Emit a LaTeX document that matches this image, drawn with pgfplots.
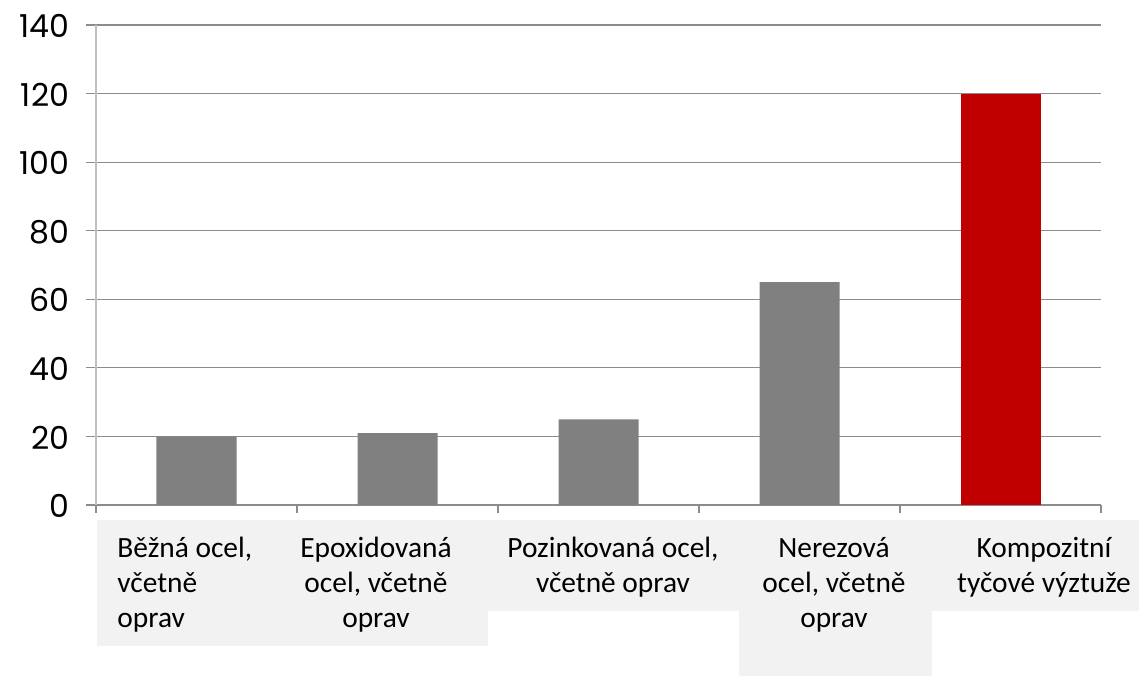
\documentclass[border=0pt]{standalone}
\usepackage{pgfplots}
\pgfplotsset{compat=1.18}
\usepackage{fontspec}
\setmainfont{Carlito}
\newfontfamily\tickfont{Poppins}
\definecolor{barg}{HTML}{808080}
\definecolor{barr}{HTML}{C00000}
\definecolor{gridc}{HTML}{8C8C8C}
\definecolor{axc}{HTML}{BFBFBF}
\definecolor{boxc}{HTML}{F2F2F2}
\begin{document}
\begin{tikzpicture}
\useasboundingbox (-48pt,-85.5pt) rectangle (521.5pt,252.5pt);
\fill[boxc] (0.5pt,-7.5pt) rectangle (196pt,-70.5pt);
\fill[boxc] (196pt,-7.5pt) rectangle (521.5pt,-53pt);
\fill[boxc] (321.5pt,-53pt) rectangle (418pt,-85.5pt);
\begin{axis}[
  at={(0pt,0pt)}, anchor=south west,
  scale only axis, width=502.5pt, height=240pt,
  xmin=-0.5, xmax=4.5, ymin=0, ymax=140,
  axis lines*=left, separate axis lines,
  x axis line style={gridc, line width=0.6pt},
  y axis line style={axc, line width=0.6pt},
  ytick={0,20,...,140},
  ymajorgrids, grid style={gridc, line width=0.6pt},
  xtick={-0.5,0.5,...,4.5}, xticklabels={},
  tick align=outside,
  xtick style={gridc, line width=0.6pt, /pgfplots/major tick length=4pt},
  ytick style={gridc, line width=0.6pt, /pgfplots/major tick length=5pt},
  yticklabel style={font=\tickfont\fontsize{15.8}{19}\selectfont, anchor=east, inner sep=0pt, xshift=-9pt, yshift=-0.5pt},
  /pgf/number format/assume math mode=true,
  ybar, bar width=40pt, bar shift=0pt,
]
\addplot[fill=barg, draw=none] coordinates {(0,20) (1,21) (2,25) (3,65)};
\addplot[fill=barr, draw=none] coordinates {(4,120)};
\end{axis}
\begin{scope}[every node/.style={inner sep=0pt, font=\fontsize{14.7}{17}\selectfont}]
\node[anchor=base west] at (10.5pt,-26pt) {Běžná ocel,};
\node[anchor=base west] at (10.5pt,-43.5pt) {včetně};
\node[anchor=base west] at (10.5pt,-61pt) {oprav};
\node[anchor=base] at (140pt,-26pt) {Epoxidovaná};
\node[anchor=base] at (140pt,-43.5pt) {ocel, včetně};
\node[anchor=base] at (140pt,-61pt) {oprav};
\node[anchor=base] at (258.5pt,-26pt) {Pozinkovaná ocel,};
\node[anchor=base] at (258.5pt,-43.5pt) {včetně oprav};
\node[anchor=base] at (369pt,-26pt) {Nerezová};
\node[anchor=base] at (369pt,-43.5pt) {ocel, včetně};
\node[anchor=base] at (369pt,-61pt) {oprav};
\node[anchor=base] at (474pt,-26pt) {Kompozitní};
\node[anchor=base] at (474pt,-43.5pt) {tyčové výztuže};
\end{scope}
\end{tikzpicture}
\end{document}
